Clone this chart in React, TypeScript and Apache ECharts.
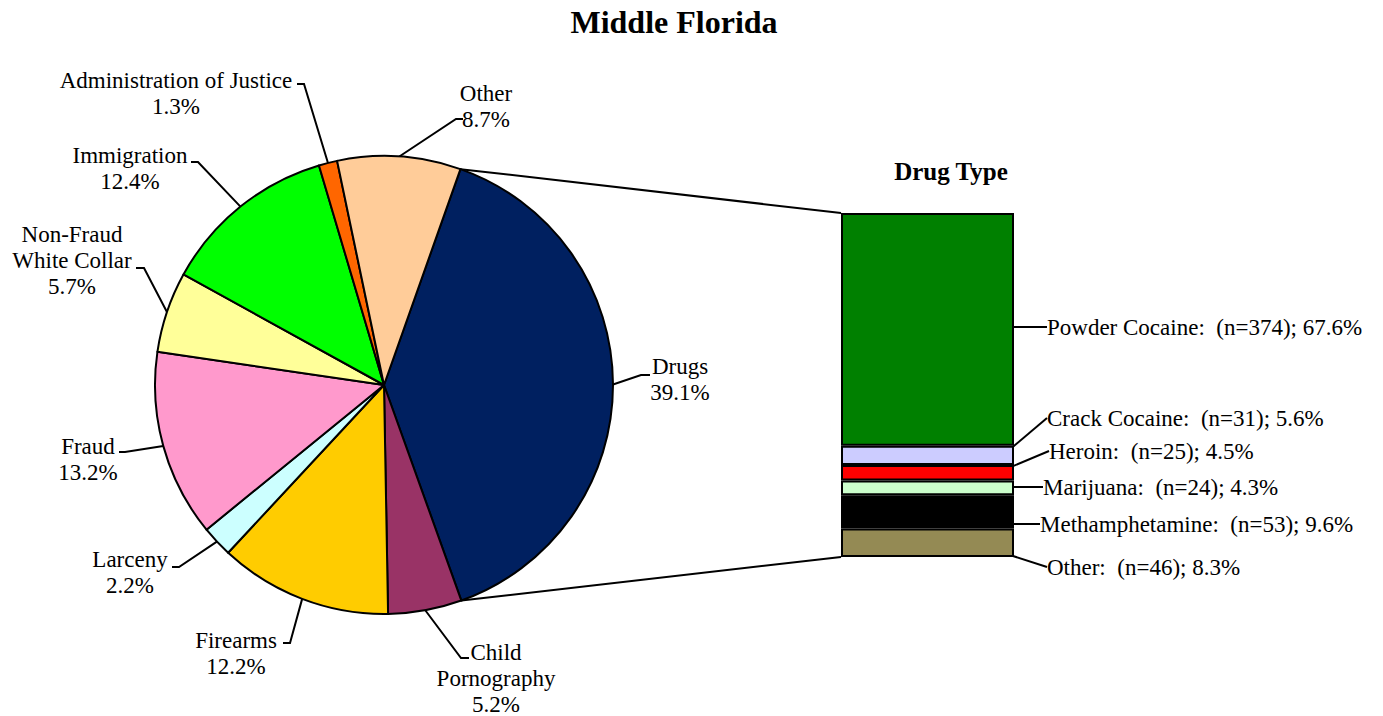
import React, { useEffect, useRef } from "react";
import * as echarts from "echarts";

const chartTitle = "Middle Florida";
const offenseNames = [
  "Drugs",
  "Child\nPornography",
  "Firearms",
  "Larceny",
  "Fraud",
  "Non-Fraud\nWhite Collar",
  "Immigration",
  "Administration of Justice",
  "Other",
];
const offensePercents = [39.1, 5.2, 12.2, 2.2, 13.2, 5.7, 12.4, 1.3, 8.7];
const offenseColors = [
  "#002060",
  "#993366",
  "#FFCC00",
  "#CCFFFF",
  "#FF99CC",
  "#FFFF99",
  "#00FF00",
  "#FF6600",
  "#FFCC99",
];

const drugTitle = "Drug Type";
// bottom to top
const drugNames = ["Other", "Methamphetamine", "Marijuana", "Heroin", "Crack Cocaine", "Powder Cocaine"];
const drugCounts = [46, 53, 24, 25, 31, 374];
const drugPercents = [8.3, 9.6, 4.3, 4.5, 5.6, 67.6];
const drugColors = ["#948A54", "#000000", "#CCFFCC", "#FF0000", "#CCCCFF", "#008000"];

// label placement (layout, not data): [textX, textY, elbowX, elbowY, endX]
const pieLabelPos: number[][] = [
  [680, 379, 641, 375, 650],
  [496, 678, 461, 658, 469],
  [236, 653, 290, 643, 283],
  [130, 572, 179, 567, 172],
  [88, 459, 125, 452, 119],
  [72, 260, 144, 268, 136],
  [130, 168, 198, 162, 191],
  [176, 93, 304, 84, 297],
  [486, 106, 456, 119, 463],
];
// bottom to top, same order as drugNames
const barLabelPos: number[][] = [
  [1047, 567, 1031, 566, 1044],
  [1040, 524, 1030, 524, 1037],
  [1043, 487, 1036, 487, 1040],
  [1049, 451, 1037, 453, 1046],
  [1047, 418, 1035, 420, 1044],
  [1047, 327, 1041, 327, 1045],
];

const FONT = "'Liberation Serif', 'Times New Roman', serif";
const LABEL_SIZE = 23;

export default function App() {
  const ref = useRef<HTMLDivElement>(null);

  useEffect(() => {
    document.body.style.margin = "0";
    const chart = echarts.init(ref.current!, null, { renderer: "svg" });
    const drugTotal = drugPercents.reduce((a, b) => a + b, 0);

    const barSeries = drugNames.map((name, i) => ({
      type: "bar",
      name,
      stack: "drugs",
      xAxisIndex: 0,
      yAxisIndex: 0,
      barWidth: "100%",
      data: [drugPercents[i]],
      itemStyle: { color: drugColors[i], borderColor: "#000", borderWidth: 2 },
      label: {
        show: true,
        position: "right",
        formatter: () => `${name}:  (n=${drugCounts[i]}); ${drugPercents[i].toFixed(1)}%`,
        fontFamily: FONT,
        fontSize: LABEL_SIZE,
        color: "#000",
      },
      labelLine: { show: true, lineStyle: { color: "#000", width: 2 } },
      labelLayout: (params: any) => {
        const r = params.rect;
        const p = barLabelPos[i];
        return {
          x: p[0],
          y: p[1],
          align: "left",
          verticalAlign: "middle",
          labelLinePoints: [
            [r.x + r.width, r.y + r.height / 2],
            [p[2], p[3]],
            [p[4], p[3]],
          ],
        };
      },
      emphasis: { disabled: true },
    }));

    const option: any = {
      animation: false,
      backgroundColor: "#fff",
      textStyle: { fontFamily: FONT },
      grid: [{ left: 841, top: 213, width: 173, height: 344, containLabel: false }],
      xAxis: [{ type: "category", gridIndex: 0, data: ["Drugs"], show: false }],
      yAxis: [{ type: "value", gridIndex: 0, min: 0, max: drugTotal, show: false }],
      series: [
        {
          type: "pie",
          center: [384, 385],
          radius: 229,
          startAngle: 70.5,
          clockwise: true,
          avoidLabelOverlap: false,
          data: offenseNames.map((n, i) => ({
            name: n,
            value: offensePercents[i],
            itemStyle: { color: offenseColors[i] },
          })),
          itemStyle: { borderColor: "#000", borderWidth: 2 },
          label: {
            show: true,
            position: "outside",
            formatter: (p: any) => `${p.name}\n${Number(p.value).toFixed(1)}%`,
            fontFamily: FONT,
            fontSize: LABEL_SIZE,
            lineHeight: 26,
            color: "#000",
            align: "center",
          },
          labelLine: { show: true, length: 10, length2: 10, lineStyle: { color: "#000", width: 2 } },
          labelLayout: (params: any) => {
            const p = pieLabelPos[params.dataIndex];
            const p0 = params.labelLinePoints ? params.labelLinePoints[0] : [p[2], p[3]];
            return {
              x: p[0],
              y: p[1],
              align: "center",
              verticalAlign: "middle",
              labelLinePoints: [
                [p0[0], p0[1]],
                [p[2], p[3]],
                [p[4], p[3]],
              ],
            };
          },
          emphasis: { disabled: true },
        },
        ...barSeries,
      ],
      graphic: [
        {
          id: "title",
          type: "text",
          x: 674,
          y: 22,
          style: {
            text: chartTitle,
            font: `bold 32px ${FONT}`,
            fill: "#000",
            textAlign: "center",
            textVerticalAlign: "middle",
          },
        },
        {
          id: "drugTitle",
          type: "text",
          x: 951,
          y: 171,
          style: {
            text: drugTitle,
            font: `bold 25px ${FONT}`,
            fill: "#000",
            textAlign: "center",
            textVerticalAlign: "middle",
          },
        },
      ],
    };

    chart.setOption(option);

    // connector lines from the Drugs slice to the stacked bar
    try {
      const model = (chart as any).getModel();
      const pieLayout = model.getSeriesByIndex(0).getData().getItemLayout(0);
      const { cx, cy, r, startAngle, endAngle } = pieLayout;
      const pTop = [cx + r * Math.cos(startAngle), cy + r * Math.sin(startAngle)];
      const pBot = [cx + r * Math.cos(endAngle), cy + r * Math.sin(endAngle)];
      const topLay = model.getSeriesByIndex(drugNames.length).getData().getItemLayout(0);
      const botLay = model.getSeriesByIndex(1).getData().getItemLayout(0);
      const leftX = Math.min(topLay.x, topLay.x + topLay.width);
      const topY = Math.min(topLay.y, topLay.y + topLay.height);
      const botY = Math.max(botLay.y, botLay.y + botLay.height);
      chart.setOption({
        graphic: [
          {
            id: "connTop",
            type: "line",
            z: 0,
            shape: { x1: pTop[0], y1: pTop[1], x2: leftX, y2: topY },
            style: { stroke: "#000", lineWidth: 2 },
          },
          {
            id: "connBot",
            type: "line",
            z: 0,
            shape: { x1: pBot[0], y1: pBot[1], x2: leftX, y2: botY },
            style: { stroke: "#000", lineWidth: 2 },
          },
        ],
      });
    } catch (e) {
      // ignore
    }

    return () => chart.dispose();
  }, []);

  return <div ref={ref} style={{ width: 1383, height: 716 }} />;
}
